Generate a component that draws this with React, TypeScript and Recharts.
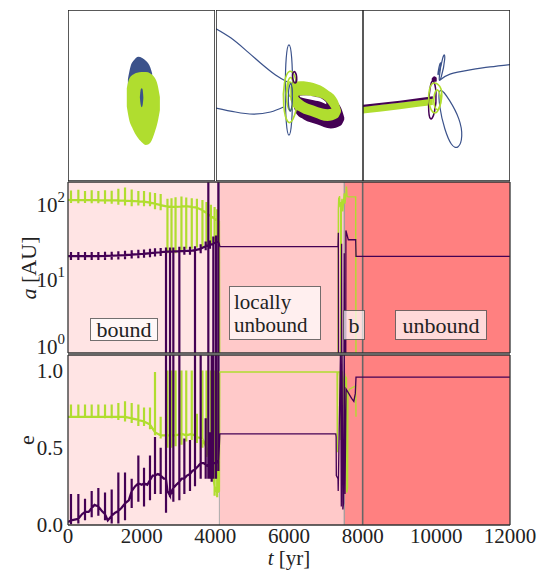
import { ComposedChart, Line, Area, XAxis, YAxis, ReferenceArea, ReferenceLine } from "recharts";

const INNER = "#440154";
const OUTER = "#b0dd2f";
const THIRD = "#3b528b";
const FRAME = "#333";
const FONT = '"Liberation Serif", "DejaVu Serif", "Times New Roman", Tinos, "Noto Serif", serif';

// [t, value, spikeHigh?, spikeLow?]
type Sample = [number, number, number?, number?];
// [x, y] for orbit traces, [x, low, high] for filled orbit bands
type Pt = [number, number];
type Band = [number, number, number];

const tTicks = [0, 2000, 4000, 6000, 8000, 10000, 12000];
const aTicks = [1, 10, 100];
const aMinorTicks = [2, 3, 4, 5, 6, 7, 8, 9, 20, 30, 40, 50, 60, 70, 80, 90];
const eTicks = [0, 0.5, 1.0];

const regions = [
  { from: 0, to: 4110, fill: "#ffe4e4" },
  { from: 4110, to: 7500, fill: "#ffc9c9" },
  { from: 7500, to: 8000, fill: "#ff8e8e" },
  { from: 8000, to: 12000, fill: "#ff8080" },
];

const boundaries = [
  { t: 4110, stroke: "#aaa", width: 1 },
  { t: 7500, stroke: "#999", width: 1.2 },
  { t: 8000, stroke: "#666", width: 1.6 },
];

// semi-major axis [AU]
const aOuterBound: Sample[] = [
  [0, 107],
  [81, 106, 142, 97],
  [281, 106, 145, 96],
  [462, 106, 140, 97],
  [643, 106, 143, 96],
  [824, 106, 140, 96],
  [1005, 105, 143, 95],
  [1186, 105, 141, 95],
  [1367, 105, 150, 92],
  [1548, 104, 156, 90],
  [1729, 103, 146, 88],
  [1910, 102, 140, 90],
  [2064, 101, 140, 88],
  [2226, 98, 135, 88],
  [2362, 95, 132, 80],
  [2516, 91, 128, 78],
  [2700, 87, 110, 21],
  [2810, 86, 112, 22],
  [2920, 86, 116, 21],
  [3080, 87, 118, 22],
  [3210, 88, 115, 24],
  [3360, 86, 112, 24],
  [3500, 84, 110, 25],
  [3650, 78, 106, 25],
  [3760, 71, 100, 26],
  [3880, 65, 92, 27],
  [3980, 60, 86, 28],
  [4050, 57, 80, 30],
  [4100, 55],
  [4110, 0.3],
];

const aOuterLate: Sample[] = [
  [7330, 0.3],
  [7340, 80],
  [7350, 115],
  [7360, 95],
  [7372, 120],
  [7385, 85],
  [7400, 100],
  [7410, 0.3],
  [7418, 0.3],
  [7420, 88],
  [7440, 110],
  [7460, 75],
  [7480, 100],
  [7500, 130],
  [7520, 95],
  [7540, 118],
  [7560, 160],
  [7575, 120],
  [7600, 117],
  [7810, 117],
  [7820, 0.3],
];

const aInnerBound: Sample[] = [
  [0, 19.2],
  [81, 19.2, 21.8, 17.0],
  [281, 19.2, 21.8, 17.0],
  [462, 19.2, 21.8, 17.0],
  [643, 19.2, 21.8, 17.0],
  [824, 19.2, 21.8, 17.0],
  [1005, 19.3, 22, 17.1],
  [1186, 19.4, 22, 17.2],
  [1367, 19.6, 22.2, 17.3],
  [1548, 19.8, 22.6, 17.5],
  [1729, 20.1, 23, 17.8],
  [1910, 20.4, 23.3, 18],
  [2064, 20.6, 23.5, 18.2],
  [2226, 21, 24, 18.6],
  [2362, 21.3, 24.4, 19],
  [2516, 21.6, 24.6, 19.2],
  [2661, 22, 25, 0.3],
  [2770, 22, 25, 0.3],
  [2860, 22.2, 25, 0.3],
  [3023, 22.3, 25.5, 0.3],
  [3159, 22.5, 25.5, 20],
  [3312, 22.5, 25.5, 20],
  [3448, 23, 26, 0.3],
  [3602, 24, 27.5, 21],
  [3738, 26, 30, 23],
  [3810, 27, 300, 0.3],
  [3855, 27, 31, 24],
  [3946, 28, 35, 0.3],
  [4018, 29, 36, 0.3],
  [4082, 30, 300, 0.3],
  [4110, 25.7],
];

const aInnerLate: Sample[] = [
  [4110, 25.7],
  [7300, 25.7],
  [7330, 25.5],
  [7340, 39],
  [7345, 0.3],
  [7420, 0.3],
  [7428, 28],
  [7435, 0.3],
  [7490, 0.3],
  [7500, 21],
  [7510, 0.3],
  [7540, 0.3],
  [7545, 42],
  [7580, 36],
  [7610, 31.6],
  [7810, 31.6],
  [7820, 19],
  [12000, 19],
];

// eccentricity
const eOuterBound: Sample[] = [
  [0, 0.7],
  [81, 0.7, 0.78, 0.7],
  [281, 0.7, 0.78, 0.7],
  [462, 0.7, 0.78, 0.7],
  [643, 0.7, 0.78, 0.7],
  [824, 0.7, 0.78, 0.7],
  [1005, 0.7, 0.78, 0.69],
  [1186, 0.7, 0.78, 0.69],
  [1367, 0.7, 0.79, 0.68],
  [1548, 0.7, 0.8, 0.67],
  [1729, 0.69, 0.79, 0.66],
  [1910, 0.68, 0.78, 0.64],
  [2064, 0.67, 0.76, 0.64],
  [2226, 0.65, 0.76, 0.62],
  [2362, 0.6, 0.99, 0.58],
  [2516, 0.58, 0.7, 0.56],
  [2700, 0.58, 1.0, 0.5],
  [2810, 0.58, 1.0, 0.5],
  [2920, 0.58, 1.0, 0.51],
  [3080, 0.59, 1.0, 0.52],
  [3210, 0.58, 1.0, 0.54],
  [3360, 0.59, 1.0, 0.55],
  [3500, 0.57, 0.72, 0.53],
  [3650, 0.56, 1.0, 0.5],
  [3760, 0.5, 1.0, 0.44],
  [3880, 0.42, 1.0, 0.3],
  [3980, 0.25, 1.0, 0.19],
  [4050, 0.21, 1.0, 0.18],
  [4100, 0.22],
  [4110, 0.99],
];

const eOuterLate: Sample[] = [
  [4110, 0.99],
  [7305, 0.99],
  [7312, 0.47],
  [7318, 0.96],
  [7330, 0.99],
  [7385, 0.99],
  [7390, 0.55],
  [7398, 0.99],
  [7450, 0.99],
  [7457, 0.45],
  [7470, 0.92],
  [7515, 0.98],
  [7522, 0.6],
  [7540, 0.96],
  [7560, 0.95],
  [7568, 0.21],
  [7590, 0.24],
  [7600, 0.86],
  [7650, 0.88],
  [7810, 0.9],
  [7819, 0.7],
];

const eInnerBound: Sample[] = [
  [0, 0.02],
  [81, 0.03, 0.2, 0.005],
  [180, 0.035],
  [281, 0.04, 0.2, 0.01],
  [380, 0.07],
  [462, 0.085, 0.17, 0.03],
  [560, 0.085],
  [643, 0.11, 0.22, 0.05],
  [720, 0.13],
  [824, 0.12, 0.24, 0.06],
  [920, 0.09],
  [1005, 0.07, 0.21, 0.03],
  [1080, 0.03],
  [1186, 0.06, 0.23, 0.01],
  [1280, 0.08],
  [1367, 0.09, 0.34, 0.01],
  [1450, 0.11],
  [1548, 0.14, 0.34, 0.03],
  [1650, 0.16],
  [1729, 0.22, 0.3, 0.11],
  [1820, 0.25],
  [1910, 0.27, 0.45, 0.15],
  [2000, 0.26],
  [2064, 0.27, 0.37, 0.12],
  [2150, 0.26],
  [2226, 0.29, 0.45, 0.16],
  [2300, 0.32],
  [2362, 0.32, 0.57, 0.2],
  [2440, 0.33],
  [2516, 0.32, 0.5, 0.2],
  [2600, 0.3],
  [2661, 0.3, 1.15, 0.08],
  [2700, 0.22],
  [2770, 0.19, 1.15, 0.18],
  [2820, 0.22],
  [2860, 0.24, 1.15, 0.15],
  [2940, 0.26],
  [3023, 0.28, 1.15, 0.16],
  [3090, 0.3],
  [3159, 0.3, 0.56, 0.2],
  [3230, 0.32],
  [3312, 0.33, 0.55, 0.22],
  [3380, 0.35],
  [3448, 0.36, 1.15, 0.25],
  [3530, 0.38],
  [3602, 0.4, 1.15, 0.3],
  [3680, 0.4],
  [3738, 0.39, 0.69, 0.3],
  [3810, 0.38, 1.15, 0.3],
  [3855, 0.4, 0.6, 0.3],
  [3901, 0.38, 1.15, 0.28],
  [3946, 0.4, 1.15, 0.3],
  [4018, 0.4, 1.15, 0.3],
  [4082, 0.42, 1.15, 0.35],
  [4110, 0.59],
];

const eInnerLate: Sample[] = [
  [4110, 0.59],
  [7270, 0.59],
  [7280, 0.57],
  [7285, 0.32],
  [7330, 0.3],
  [7336, 0.22],
  [7342, 0.3],
  [7400, 1.15],
  [7420, 0.12],
  [7440, 1.15],
  [7462, 0.1],
  [7480, 0.14],
  [7500, 1.15],
  [7520, 0.2],
  [7550, 0.88],
  [7600, 0.86],
  [7700, 0.82],
  [7760, 0.8],
  [7800, 0.85],
  [7819, 0.957],
  [12000, 0.957],
];

// orbit snapshots, one box per time window
const p1ThirdFill: Band[] = [
  [-1.85, 0, 2.2],
  [-1.5, -1, 3.9],
  [-1.0, -1, 4.8],
  [-0.45, -1, 5.25],
  [0.1, -1, 5.1],
  [0.7, -1, 4.6],
  [1.2, -1, 3.8],
  [1.45, 0, 3.0],
];
const p1OuterFill: Band[] = [
  [-2.0, -1.5, 1.0],
  [-1.7, -3.2, 2.2],
  [-1.2, -4.5, 2.8],
  [-0.6, -5.6, 3.1],
  [0.0, -6.3, 3.2],
  [0.6, -6.7, 3.2],
  [1.2, -6.4, 3.0],
  [1.8, -5.0, 2.4],
  [2.2, -3.6, 1.4],
  [2.5, -2.0, -0.2],
];
const p1InnerCore: Band[] = [
  [-0.22, -0.3, -0.2],
  [-0.1, -1.3, 0.8],
  [0.03, -1.6, 1.0],
  [0.15, -1.3, 0.8],
  [0.25, -0.4, -0.2],
];

const p2ThirdArcA: Pt[] = [[-10, 9.05], [-8.0, 7.82], [-6.0, 6.19], [-3.95, 4.42], [-1.9, 2.79], [-0.27, 1.84]];
const p2ThirdArcB: Pt[] = [[-10, -1.7], [-7.35, -2.24], [-4.9, -2.52], [-2.58, -2.24], [-0.82, -1.56]];
const p2ThirdLoop: Pt[] = [[-0.07, 7.55], [0.35, 5.5], [0.45, 1], [0.35, -4], [-0.07, -6.05], [-0.5, -4], [-0.6, 1], [-0.5, 5.5]];
const p2InnerRing: Band[] = [
  [0.55, -1.5, 0.2],
  [0.99, -2.56, 0.88],
  [1.95, -3.24, 0.95],
  [3.72, -3.9, 0.7],
  [5.62, -4.47, -0.25],
  [6.98, -4.06, -1.61],
  [7.45, -3.24, -2.97],
];
const p2OuterRing: Band[] = [
  [0.1, -0.5, 1.2],
  [0.54, -1.56, 1.88],
  [1.5, -2.24, 1.95],
  [3.27, -2.9, 1.7],
  [5.17, -3.47, 0.75],
  [6.53, -3.06, -0.61],
  [7.0, -2.24, -1.97],
];
const p2HoleInner: Band[] = [
  [1.1, -0.1, -0.05],
  [2.0, -0.85, 0.0],
  [3.27, -1.35, -0.15],
  [4.5, -1.75, -0.45],
  [5.2, -1.85, -1.05],
  [5.7, -1.8, -1.75],
];
const p2HoleGap: Band[] = [
  [1.4, -0.2, -0.05],
  [2.3, -0.45, 0.0],
  [3.3, -0.65, -0.15],
  [4.4, -0.9, -0.45],
  [5.0, -1.2, -0.9],
];
const p2OuterLoopA: Pt[] = [[0.0, 3.8], [1.0, 2.5], [1.2, -1], [0.5, -3.5], [-0.3, -4.0], [-0.9, -1.5], [-0.8, 2]];
const p2OuterLoopB: Pt[] = [[0.3, 3.0], [0.8, 0.5], [0.2, -2.8], [-0.5, -1.0], [-0.4, 1.8]];
const p2OuterLoopC: Pt[] = [[-0.2, 2.2], [0.6, 1.5], [0.5, -0.5], [-0.3, 0.0]];
const p2InnerLoop: Pt[] = [[0.6, 3.6], [1.1, 2.6], [0.8, 1.3], [0.3, 2.4]];
const p2ThirdSmall: Pt[] = [[0.1, 2.5], [0.5, 0.5], [0.2, -3.0], [-0.3, -1.0]];

const p3OuterBand: Band[] = [[-10, -2.45, -1.5], [-5, -1.85, -0.95], [-0.5, -1.3, -0.4]];
const p3InnerBand: Band[] = [[-10, -1.55, -1.25], [-5, -1.0, -0.7], [-0.5, -0.45, -0.1]];
const p3InnerBlob: Band[] = [[-0.65, 2.0, 2.3], [-0.3, 1.85, 2.6], [0.03, 1.9, 2.4]];
const p3ThirdArc: Pt[] = [[0.48, 2.1], [1.84, 2.9], [4.56, 3.47], [7.28, 3.88], [10, 4.2]];
const p3ThirdLoop: Pt[] = [[0.2, 1.6], [1.8, -0.6], [3.2, -3.2], [3.6, -5.6], [3.0, -7.3], [2.0, -6.9], [1.1, -4.6], [0.4, -1.8]];
const p3ThirdSpikeA: Pt[] = [[0.2, 1.8], [0.9, 5.8], [1.3, 5.5], [0.6, 2.0]];
const p3ThirdSpikeB: Pt[] = [[0.0, 2.0], [0.5, 4.8], [0.7, 4.2]];
const p3InnerLoop: Pt[] = [[-0.5, 2.5], [0.07, 0.5], [-0.2, -2.5], [-0.9, -3.7], [-1.16, -1.5], [-0.9, 1.2]];
const p3OuterLoopA: Pt[] = [[-0.5, 2.0], [0.9, 1.2], [0.6, -1.5], [-0.3, -2.9], [-1.2, -1.0], [-1.0, 1.0]];
const p3OuterLoopB: Pt[] = [[0.0, 1.5], [0.8, -0.5], [0.2, -2.5], [-0.6, -1.0]];

// expand spikes into vertical excursions of the polyline
function trace(samples: Sample[]) {
  const out: { t: number; v: number }[] = [];
  for (const [t, v, hi, lo] of samples) {
    out.push({ t, v });
    if (hi !== undefined) {
      out.push({ t, v: hi });
      out.push({ t, v: lo ?? v });
      out.push({ t, v });
    }
  }
  return out;
}

const pts = (p: Pt[]) => p.map(([u, v]) => ({ u, v }));
const bands = (b: Band[]) => b.map(([u, lo, hi]) => ({ u, band: [lo, hi] }));

const frameLine = { stroke: FRAME, strokeWidth: 1.3 };
const orbitFrame = { stroke: "#222", strokeWidth: 1.5 };
const tickLine = { stroke: FRAME, strokeWidth: 1 };
const tickText = { fontFamily: FONT, fontSize: 21, fill: "#222" };

function PowerTick(props: any) {
  const { x, y, payload } = props;
  const exp = Math.round(Math.log10(payload.value));
  // the lowest label sits on the panel's bottom edge, lift it clear of the panel below
  const base = exp === 0 ? y + 1 : y + 10;
  return (
    <text x={x} y={base} textAnchor="end" fontFamily={FONT} fontSize={21} fill="#222">
      10
      <tspan dy={-10} fontSize={15}>
        {exp}
      </tspan>
    </text>
  );
}

type OrbitFill = { rows: Band[]; color: string };
type OrbitTrace = { rows: Pt[]; color: string; closed?: boolean; width?: number };

function OrbitPanel({ left, fills, traces }: { left: number; fills: OrbitFill[]; traces: OrbitTrace[] }) {
  return (
    <div style={{ position: "absolute", left, top: 10 }}>
      <ComposedChart width={147} height={171} margin={{ top: 0, right: 0, bottom: 0, left: 0 }}>
        {fills.map((f, i) => (
          <Area
            key={`f${i}`}
            data={bands(f.rows)}
            dataKey="band"
            type="monotone"
            fill={f.color}
            fillOpacity={1}
            stroke="none"
            isAnimationActive={false}
          />
        ))}
        {traces.map((tr, i) => (
          <Line
            key={`l${i}`}
            data={pts(tr.rows)}
            dataKey="v"
            type={tr.closed ? "basisClosed" : "natural"}
            stroke={tr.color}
            strokeWidth={tr.width ?? 1.2}
            dot={false}
            isAnimationActive={false}
          />
        ))}
        <XAxis type="number" dataKey="u" domain={[-10, 10]} ticks={[0]} mirror tick={false} tickSize={4} axisLine={orbitFrame} tickLine={tickLine} allowDataOverflow />
        <XAxis xAxisId="top" type="number" dataKey="u" orientation="top" domain={[-10, 10]} ticks={[0]} mirror tick={false} tickSize={4} axisLine={orbitFrame} tickLine={tickLine} allowDataOverflow />
        <YAxis type="number" domain={[-11.6, 11.6]} ticks={[0]} mirror tick={false} tickSize={4} axisLine={orbitFrame} tickLine={tickLine} allowDataOverflow />
        <YAxis yAxisId="right" orientation="right" type="number" domain={[-11.6, 11.6]} ticks={[0]} mirror tick={false} tickSize={4} axisLine={orbitFrame} tickLine={tickLine} allowDataOverflow />
      </ComposedChart>
    </div>
  );
}

function Backdrop({ yId }: { yId: string }) {
  return (
    <>
      {regions.map((r) => (
        <ReferenceArea key={r.from} xAxisId="t" yAxisId={yId} x1={r.from} x2={r.to} fill={r.fill} fillOpacity={1} stroke="none" />
      ))}
      {boundaries.map((b) => (
        <ReferenceLine key={b.t} xAxisId="t" yAxisId={yId} x={b.t} stroke={b.stroke} strokeWidth={b.width} />
      ))}
    </>
  );
}

function series(yId: string, data: Sample[], color: string, width: number) {
  return (
    <Line
      xAxisId="t"
      yAxisId={yId}
      data={trace(data)}
      dataKey="v"
      type="linear"
      stroke={color}
      strokeWidth={width}
      dot={false}
      isAnimationActive={false}
    />
  );
}

function SemiMajorPanel() {
  return (
    <div style={{ position: "absolute", left: 0, top: 172 }}>
      <ComposedChart width={542} height={190} margin={{ top: 10, right: 32, bottom: 9, left: 0 }}>
        {Backdrop({ yId: "a" })}
        {series("a", aOuterBound, OUTER, 2.2)}
        {series("a", aInnerBound, INNER, 2.2)}
        {series("a", aOuterLate, OUTER, 1.4)}
        {series("a", aInnerLate, INNER, 1.3)}
        <XAxis xAxisId="t" type="number" dataKey="t" domain={[0, 12000]} ticks={tTicks} interval={0} mirror tick={false} tickSize={5} axisLine={frameLine} tickLine={tickLine} allowDataOverflow />
        <XAxis xAxisId="tt" type="number" dataKey="t" orientation="top" domain={[0, 12000]} ticks={tTicks} interval={0} mirror tick={false} tickSize={5} axisLine={frameLine} tickLine={tickLine} allowDataOverflow />
        <YAxis yAxisId="a" type="number" scale="log" domain={[1, 184]} ticks={aTicks} interval={0} width={68} tickLine={false} tickSize={3} tickMargin={0} tick={<PowerTick />} axisLine={frameLine} allowDataOverflow />
        <YAxis yAxisId="al" type="number" scale="log" domain={[1, 184]} ticks={aTicks} interval={0} mirror tick={false} tickSize={6} axisLine={false} tickLine={tickLine} allowDataOverflow />
        <YAxis yAxisId="am" type="number" scale="log" domain={[1, 184]} ticks={aMinorTicks} interval={0} mirror tick={false} tickSize={3} axisLine={false} tickLine={tickLine} allowDataOverflow />
        <YAxis yAxisId="ar" orientation="right" type="number" scale="log" domain={[1, 184]} ticks={aTicks} interval={0} mirror tick={false} tickSize={6} axisLine={frameLine} tickLine={tickLine} allowDataOverflow />
        <YAxis yAxisId="arm" orientation="right" type="number" scale="log" domain={[1, 184]} ticks={aMinorTicks} interval={0} mirror tick={false} tickSize={3} axisLine={false} tickLine={tickLine} allowDataOverflow />
      </ComposedChart>
    </div>
  );
}

function EccentricityPanel() {
  return (
    <div style={{ position: "absolute", left: 0, top: 345 }}>
      <ComposedChart width={542} height={225} margin={{ top: 10, right: 32, bottom: 0, left: 0 }}>
        {Backdrop({ yId: "e" })}
        {series("e", eOuterBound, OUTER, 2.2)}
        {series("e", eInnerBound, INNER, 2.2)}
        {series("e", eOuterLate, OUTER, 1.4)}
        {series("e", eInnerLate, INNER, 1.3)}
        <XAxis xAxisId="t" type="number" dataKey="t" domain={[0, 12000]} ticks={tTicks} interval={0} height={45} tickLine={false} tickSize={3} tickMargin={0} tick={tickText} axisLine={frameLine} allowDataOverflow />
        <XAxis xAxisId="tb" type="number" dataKey="t" domain={[0, 12000]} ticks={tTicks} interval={0} mirror tick={false} tickSize={5} axisLine={false} tickLine={tickLine} allowDataOverflow />
        <XAxis xAxisId="tt" type="number" dataKey="t" orientation="top" domain={[0, 12000]} ticks={tTicks} interval={0} mirror tick={false} tickSize={5} axisLine={frameLine} tickLine={tickLine} allowDataOverflow />
        <YAxis yAxisId="e" type="number" domain={[0, 1.1]} ticks={eTicks} interval={0} width={68} tickLine={false} tickSize={5} tickMargin={0} tick={tickText} tickFormatter={(v: number) => v.toFixed(1)} axisLine={frameLine} allowDataOverflow />
        <YAxis yAxisId="el" type="number" domain={[0, 1.1]} ticks={eTicks} interval={0} mirror tick={false} tickSize={6} axisLine={false} tickLine={tickLine} allowDataOverflow />
        <YAxis yAxisId="er" orientation="right" type="number" domain={[0, 1.1]} ticks={eTicks} interval={0} mirror tick={false} tickSize={6} axisLine={frameLine} tickLine={tickLine} allowDataOverflow />
      </ComposedChart>
    </div>
  );
}

const boxStyle = {
  position: "absolute" as const,
  background: "rgba(255,255,255,0.7)",
  border: "1px solid rgba(0,0,0,0.55)",
  fontFamily: FONT,
  fontSize: 22,
  color: "#222",
  boxSizing: "border-box" as const,
  lineHeight: "21px",
};

export default function App() {
  return (
    <div style={{ position: "absolute", left: 0, top: 0, width: 542, height: 570, background: "#fff", overflow: "hidden", fontFamily: FONT }}>
      <OrbitPanel
        left={68}
        fills={[
          { rows: p1ThirdFill, color: THIRD },
          { rows: p1OuterFill, color: OUTER },
          { rows: p1InnerCore, color: THIRD },
        ]}
        traces={[]}
      />
      <OrbitPanel
        left={216}
        fills={[
          { rows: p2InnerRing, color: INNER },
          { rows: p2OuterRing, color: OUTER },
          { rows: p2HoleInner, color: INNER },
          { rows: p2HoleGap, color: "#fff" },
        ]}
        traces={[
          { rows: p2ThirdArcA, color: THIRD },
          { rows: p2ThirdArcB, color: THIRD },
          { rows: p2ThirdLoop, color: THIRD, closed: true },
          { rows: p2OuterLoopA, color: OUTER, closed: true, width: 1.6 },
          { rows: p2OuterLoopB, color: OUTER, closed: true, width: 1.6 },
          { rows: p2OuterLoopC, color: OUTER, closed: true, width: 1.6 },
          { rows: p2InnerLoop, color: INNER, closed: true, width: 1.6 },
          { rows: p2ThirdSmall, color: THIRD, closed: true },
        ]}
      />
      <OrbitPanel
        left={363}
        fills={[
          { rows: p3OuterBand, color: OUTER },
          { rows: p3InnerBand, color: INNER },
          { rows: p3InnerBlob, color: INNER },
        ]}
        traces={[
          { rows: p3ThirdArc, color: THIRD },
          { rows: p3ThirdLoop, color: THIRD, closed: true },
          { rows: p3ThirdSpikeA, color: THIRD, closed: true },
          { rows: p3ThirdSpikeB, color: THIRD, closed: true },
          { rows: p3InnerLoop, color: INNER, closed: true, width: 1.5 },
          { rows: p3OuterLoopA, color: OUTER, closed: true, width: 1.6 },
          { rows: p3OuterLoopB, color: OUTER, closed: true, width: 1.6 },
        ]}
      />
      <SemiMajorPanel />
      <EccentricityPanel />

      <div style={{ ...boxStyle, left: 90, top: 318, width: 68, height: 23, textAlign: "center" }}>bound</div>
      <div style={{ ...boxStyle, left: 229, top: 286, width: 92, height: 54, padding: "4px 0 0 4px", fontSize: 21, lineHeight: "23px" }}>
        locally
        <br />
        unbound
      </div>
      <div style={{ ...boxStyle, left: 343, top: 310, width: 22, height: 30, textAlign: "center", paddingTop: 4 }}>b</div>
      <div style={{ ...boxStyle, left: 395, top: 310, width: 92, height: 30, textAlign: "center", paddingTop: 4 }}>unbound</div>

      <svg width={542} height={570} style={{ position: "absolute", left: 0, top: 0, pointerEvents: "none" }}>
        <text transform="translate(36,268) rotate(-90)" textAnchor="middle" fontFamily={FONT} fontSize={22} fill="#222">
          <tspan fontStyle="italic">a</tspan> [AU]
        </text>
        <text transform="translate(34,440) rotate(-90)" textAnchor="middle" fontFamily={FONT} fontSize={22} fill="#222">
          e
        </text>
        <text x={289} y={565} textAnchor="middle" fontFamily={FONT} fontSize={21} fill="#222">
          <tspan fontStyle="italic">t</tspan> [yr]
        </text>
      </svg>
    </div>
  );
}
